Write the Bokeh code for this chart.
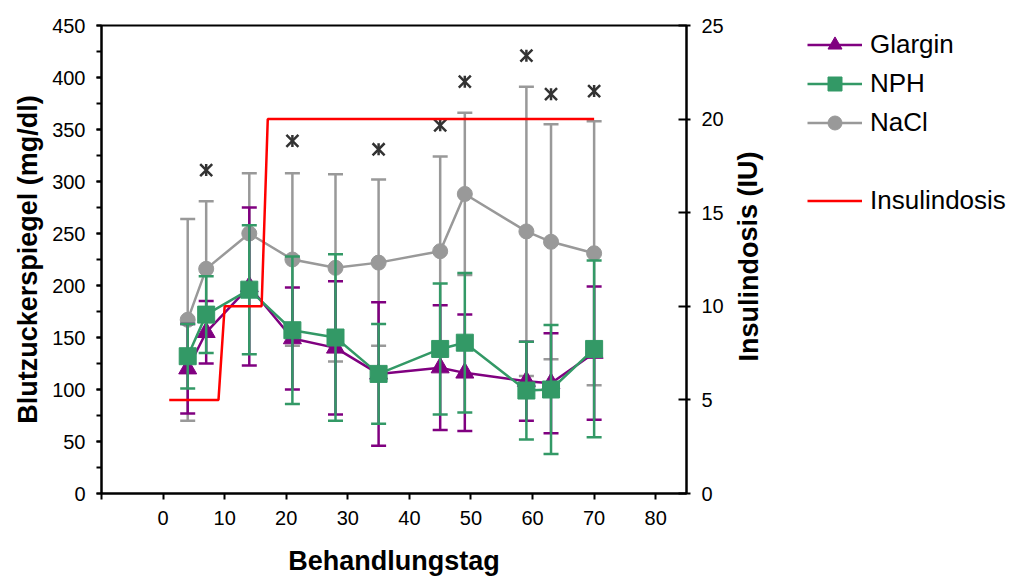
from bokeh.plotting import figure
from bokeh.models import (Range1d, LinearAxis, FixedTicker, SingleIntervalTicker,
                          Legend, LegendItem, ColumnDataSource, Label)
from bokeh.layouts import row
from bokeh.embed import file_html
from bokeh.resources import INLINE

# ---------------- data ----------------
days = [4, 7, 14, 21, 28, 35, 45, 49, 59, 63, 70]

glargin_mean = [120, 155, 199, 149, 140, 115, 121, 116, 108, 106, 135]
glargin_sd = [43, 30, 76, 49, 64, 69, 60, 56, 38, 48, 64]

nph_mean = [132, 172, 196, 157, 150, 115, 139, 145, 99, 100, 139]
nph_sd = [31, 37, 62, 71, 80, 48, 63, 67, 47, 62, 85]

nacl_mean = [167, 216, 250, 225, 217, 222, 233, 288, 252, 242, 231]
nacl_sd = [97, 65, 58, 83, 90, 80, 91, 78, 139, 113, 127]

star_days = [7, 21, 35, 45, 49, 59, 63, 70]
star_vals = [311, 339, 331, 354, 396, 421, 384, 387]

ins_days = [1, 9, 10, 16, 17, 70]
ins_dose = [5, 5, 10, 10, 20, 20]

x_ticks = [-10, 0, 10, 20, 30, 40, 50, 60, 70, 80]
right_ticks = [0, 5, 10, 15, 20, 25]

# ---------------- styles ----------------
FONT = "Liberation Sans"
PURPLE = "#800080"
GREEN = "#339966"
GRAY = "#999999"
RED = "#ff0000"
STAR = "#333333"

H = 578
TOP, BOTTOM = 25, 85
W_MAIN = 730
p = figure(width=W_MAIN, height=H, output_backend="svg", toolbar_location=None,
           x_range=Range1d(-10, 85), y_range=Range1d(0, 450),
           min_border_left=101, min_border_right=W_MAIN - 686, min_border_top=TOP,
           min_border_bottom=BOTTOM)
p.extra_y_ranges = {"ins": Range1d(0, 25)}
p.xgrid.visible = False
p.ygrid.visible = False
p.outline_line_color = "black"
p.outline_line_width = 2
p.background_fill_color = "white"
p.border_fill_color = "white"

SERIES_STYLE = {
    "Glargin": (PURPLE, "triangle", 18),
    "NPH": (GREEN, "square", 17),
    "NaCl": (GRAY, "circle", 15),
}


def series(mean, sd, name):
    color, marker, size = SERIES_STYLE[name]
    lo = [m - s for m, s in zip(mean, sd)]
    hi = [m + s for m, s in zip(mean, sd)]
    src = ColumnDataSource(dict(x=days, m=mean, lo=lo, hi=hi))
    p.segment(x0="x", y0="lo", x1="x", y1="hi", source=src, line_color=color, line_width=2.5)
    p.scatter(x="x", y="lo", source=src, marker="dash", size=15, line_color=color, line_width=2.5)
    p.scatter(x="x", y="hi", source=src, marker="dash", size=15, line_color=color, line_width=2.5)
    p.line(x="x", y="m", source=src, line_color=color, line_width=2.5)
    p.scatter(x="x", y="m", source=src, marker=marker, size=size,
              fill_color=color, line_color=color, line_width=1)


series(nacl_mean, nacl_sd, "NaCl")
series(glargin_mean, glargin_sd, "Glargin")
series(nph_mean, nph_sd, "NPH")

# significance stars
p.scatter(x=star_days, y=star_vals, marker="x", size=17, line_color=STAR, line_width=2.5)
p.scatter(x=star_days, y=star_vals, marker="dash", angle=1.5708, size=12,
          line_color=STAR, line_width=2.5)

# insulin dose (right axis)
p.line(x=ins_days, y=ins_dose, y_range_name="ins", line_color=RED, line_width=2.5)

# ---------------- axes ----------------
xa = p.xaxis[0]
xa.ticker = FixedTicker(ticks=x_ticks)
xa.major_label_overrides = {-10: ""}
xa.axis_label = "Behandlungstag"

ya = p.yaxis[0]
ya.ticker = SingleIntervalTicker(interval=50, num_minor_ticks=2)
ya.axis_label = "Blutzuckerspiegel (mg/dl)"

ra = LinearAxis(y_range_name="ins", ticker=FixedTicker(ticks=right_ticks))
p.add_layout(ra, "right")

for ax in (xa, ya, ra):
    ax.axis_line_color = "black"
    ax.axis_line_width = 2
    ax.major_tick_line_color = "black"
    ax.major_tick_line_width = 2
    ax.minor_tick_line_color = "black"
    ax.minor_tick_line_width = 2
    ax.major_label_text_font = FONT
    ax.major_label_text_font_size = "20px"
    ax.major_label_text_color = "black"
    ax.axis_label_text_font = FONT
    ax.axis_label_text_font_size = "27px"
    ax.axis_label_text_font_style = "bold"
    ax.axis_label_text_color = "black"

xa.major_tick_in = 0
xa.major_tick_out = 6
xa.minor_tick_out = 0
xa.minor_tick_in = 0
xa.major_label_standoff = 11
xa.axis_label_standoff = 18

ya.major_tick_in = 0
ya.major_tick_out = 5
ya.minor_tick_in = 0
ya.minor_tick_out = 5
ya.major_label_standoff = 11
ya.axis_label_standoff = 6

ra.major_tick_in = 8
ra.major_tick_out = 4
ra.minor_tick_in = 0
ra.minor_tick_out = 0
ra.major_label_standoff = 11

# ---------------- side panel: right axis title + legend ----------------
# frame of this panel coincides with the main frame vertically; its data units are pixels
W_SIDE = 1009 - W_MAIN
q = figure(width=W_SIDE, height=H, output_backend="svg", toolbar_location=None,
           x_range=Range1d(0, W_SIDE), y_range=Range1d(BOTTOM, H - TOP),
           min_border_left=0, min_border_right=0, min_border_top=TOP,
           min_border_bottom=BOTTOM, x_axis_location=None, y_axis_location=None)
q.xgrid.visible = False
q.ygrid.visible = False
q.outline_line_color = None
q.background_fill_color = "white"
q.border_fill_color = "white"

q.add_layout(Label(x=748 - W_MAIN, y=H - 256, text="Insulindosis (IU)", angle=1.5708,
                   text_align="center", text_baseline="middle", text_font=FONT,
                   text_font_size="27px", text_font_style="bold", text_color="black"))

OFF = [-1e6]  # legend-only renderers: one point far outside the view
items = []
for name in ["Glargin", "NPH", "NaCl"]:
    color, marker, size = SERIES_STYLE[name]
    ln = q.line(x=OFF, y=OFF, line_color=color, line_width=2.5)
    mk = q.scatter(x=OFF, y=OFF, marker=marker, size=size, fill_color=color, line_color=color)
    items.append(LegendItem(label=name, renderers=[ln, mk]))
blank = q.line(x=OFF, y=OFF, line_alpha=0)
items.append(LegendItem(label=" ", renderers=[blank]))
ins_leg = q.line(x=OFF, y=OFF, line_color=RED, line_width=2.5)
items.append(LegendItem(label="Insulindosis", renderers=[ins_leg]))

legend = Legend(items=items, location=(807 - W_MAIN, (H - BOTTOM) - 218))
legend.label_text_font = FONT
legend.label_text_font_size = "26px"
legend.label_text_color = "black"
legend.glyph_width = 55
legend.glyph_height = 35
legend.label_height = 35
legend.label_standoff = 8
legend.spacing = 4
legend.padding = 0
legend.margin = 0
legend.border_line_alpha = 0
legend.background_fill_alpha = 0
q.add_layout(legend, "center")

layout = row(p, q, spacing=0)
open("out.html", "w").write(file_html(layout, INLINE))
